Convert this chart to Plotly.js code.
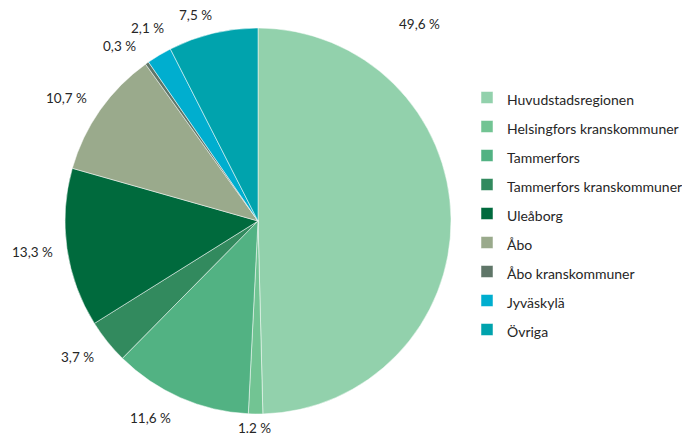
<!DOCTYPE html>
<html>
<head>
<meta charset="utf-8">
<script src="https://cdn.plot.ly/plotly-3.0.1.min.js"></script>
<style>html,body{margin:0;padding:0;background:#fff;}#chart{width:682px;height:435px;}</style>
</head>
<body>
<div id="chart"></div>
<script>
const categories = ["Huvudstadsregionen","Helsingfors kranskommuner","Tammerfors","Tammerfors kranskommuner","Uleåborg","Åbo","Åbo kranskommuner","Jyväskylä","Övriga"];
const shares = [49.6, 1.2, 11.6, 3.7, 13.3, 10.7, 0.3, 2.1, 7.5];
const valueLabels = ["49,6 %","1.2 %","11,6 %","3,7 %","13,3 %","10,7 %","0,3 %","2,1 %","7,5 %"];
const colors = ["#92D1AC","#72C493","#52B283","#328A5E","#006A3D","#9AAA8C","#5F7668","#00AECF","#00A3AD"];
// label placement in pixels — layout only
const labelPos = [[419,24],[254,428],[150,418],[77,357],[32,252],[66,98],[119,46],[147,28],[195,15]];

const W = 682, H = 435;
const FONT = "Lato, 'Liberation Sans', sans-serif";

const trace = {
  type: "pie",
  labels: categories.map(c => '<span style="font-size:14px">' + c + '</span>'),
  values: shares,
  sort: false,
  direction: "clockwise",
  rotation: 0,
  textinfo: "none",
  hoverinfo: "label+percent",
  marker: {colors: colors, line: {color: "#ffffff", width: 0.5}},
  domain: {x: [(258-195)/W, (258+195)/W], y: [1-414/H, 1-28/H]}
};

const annotations = valueLabels.map((t, i) => ({
  text: t, xref: "paper", yref: "paper",
  x: labelPos[i][0]/W, y: 1 - labelPos[i][1]/H,
  xanchor: "center", yanchor: "middle", showarrow: false,
  font: {family: FONT, size: 13.5, color: "#262626"}
}));

const layout = {
  width: W, height: H,
  margin: {l: 0, r: 0, t: 0, b: 0, autoexpand: false},
  paper_bgcolor: "#ffffff",
  showlegend: true,
  legend: {x: 467/W, y: 1 - 78/H, xanchor: "left", yanchor: "top",
           font: {family: FONT, size: 20, color: "#262626"}, bgcolor: "rgba(0,0,0,0)"},
  annotations: annotations
};

Plotly.newPlot("chart", [trace], layout, {displayModeBar: false, staticPlot: true});
</script>
</body>
</html>
